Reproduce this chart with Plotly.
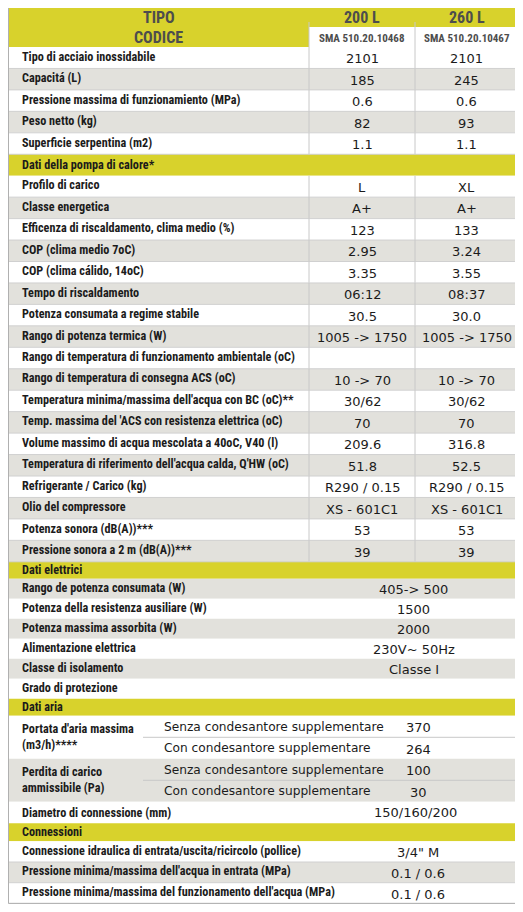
import plotly.graph_objects as go

# ---------------- data ----------------
header_cols = ["TIPO", "200 L", "260 L"]
code_cols = ["CODICE", "SMA 510.20.10468", "SMA 510.20.10467"]

gen_labels = ["Tipo di acciaio inossidabile", "Capacitá (L)", "Pressione massima di funzionamiento (MPa)",
              "Peso netto (kg)", "Superficie serpentina (m2)"]
gen_200 = ["2101", "185", "0.6", "82", "1.1"]
gen_260 = ["2101", "245", "0.6", "93", "1.1"]

pump_title = "Dati della pompa di calore*"
pump_labels = ["Profilo di carico", "Classe energetica", "Efficenza di riscaldamento, clima medio (%)",
               "COP (clima medio 7oC)", "COP (clima cálido, 14oC)", "Tempo di riscaldamento",
               "Potenza consumata a regime stabile", "Rango di potenza termica (W)",
               "Rango di temperatura di funzionamento ambientale (oC)", "Rango di temperatura di consegna ACS (oC)",
               "Temperatura minima/massima dell'acqua con BC (oC)**", "Temp. massima del 'ACS con resistenza elettrica (oC)",
               "Volume massimo di acqua mescolata a 40oC, V40 (l)", "Temperatura di riferimento dell'acqua calda, Q'HW (oC)",
               "Refrigerante / Carico (kg)", "Olio del compressore", "Potenza sonora (dB(A))***",
               "Pressione sonora a 2 m (dB(A))***"]
pump_200 = ["L", "A+", "123", "2.95", "3.35", "06:12", "30.5", "1005 -> 1750", "", "10 -> 70", "30/62", "70",
            "209.6", "51.8", "R290 / 0.15", "XS - 601C1", "53", "39"]
pump_260 = ["XL", "A+", "133", "3.24", "3.55", "08:37", "30.0", "1005 -> 1750", "", "10 -> 70", "30/62", "70",
            "316.8", "52.5", "R290 / 0.15", "XS - 601C1", "53", "39"]

elec_title = "Dati elettrici"
elec_labels = ["Rango de potenza consumata (W)", "Potenza della resistenza ausiliare (W)",
               "Potenza massima assorbita (W)", "Alimentazione elettrica", "Classe di isolamento",
               "Grado di protezione"]
elec_vals = ["405-> 500", "1500", "2000", "230V~ 50Hz", "Classe I", ""]

air_title = "Dati aria"
air_groups = ["Portata d'aria massima<br>(m3/h)****", "Perdita di carico<br>ammissibile (Pa)"]
air_sub = ["Senza condesantore supplementare", "Con condesantore supplementare"]
air_vals = [["370", "264"], ["100", "30"]]
air_diam_label = "Diametro di connessione (mm)"
air_diam_val = "150/160/200"

conn_title = "Connessioni"
conn_labels = ["Connessione idraulica di entrata/uscita/ricircolo (pollice)",
               "Pressione minima/massima dell'acqua in entrata (MPa)",
               "Pressione minima/massima del funzionamento dell'acqua (MPa)"]
conn_vals = ['3/4" M', "0.1 / 0.6", "0.1 / 0.6"]

# ---------------- style ----------------
YEL = "#d8d22c"
GREY = "#e2e1dc"
WHITE = "#ffffff"
LINE = "#c8c8c8"
TXT = "#1b1b1b"
HTXT = "#4d4d4d"
LFONT = "Liberation Sans Narrow, Roboto Condensed, Roboto, Liberation Sans"
VFONT = "DejaVu Sans"
X0, X1, X2, X3 = 8.5, 309, 415, 518
XSUB = 143
LS = 12.2
VS = 13

shapes, ann = [], []

def rect(x0, y0, x1, y1, fill):
    shapes.append(dict(type="rect", xref="x", yref="y", x0=x0, x1=x1, y0=y0, y1=y1,
                       fillcolor=fill, line=dict(width=0), layer="below"))

def hline(x0, x1, y, color=LINE, w=1):
    shapes.append(dict(type="line", xref="x", yref="y", x0=x0, x1=x1, y0=y, y1=y, line=dict(color=color, width=w)))

def vline(x, y0, y1, color=LINE, w=1):
    shapes.append(dict(type="line", xref="x", yref="y", x0=x, x1=x, y0=y0, y1=y1, line=dict(color=color, width=w)))

def text(x, y, s, anchor="left", size=LS, color=TXT, font=LFONT, bold=True):
    ann.append(dict(x=x, y=y, xref="x", yref="y", text=(f"<b>{s}</b>" if bold and s else s), showarrow=False,
                    xanchor=anchor, yanchor="middle", align="left",
                    font=dict(family=font, size=size, color=color)))

# header
rect(X0, 6, X3, 27, YEL)
rect(X0, 27, X1, 47, YEL)
rect(X1, 27, X3, 47, WHITE)
text((X0 + X1) / 2, 17, header_cols[0], "center", 16, HTXT)
text((X1 + X2) / 2, 17, header_cols[1], "center", 16, HTXT)
text((X2 + X3) / 2, 17, header_cols[2], "center", 16, HTXT)
text((X0 + X1) / 2, 37.5, code_cols[0], "center", 16, HTXT)
text((X1 + X2) / 2, 38, code_cols[1], "center", 11, HTXT)
text((X2 + X3) / 2, 38, code_cols[2], "center", 11, HTXT)
vline(X1, 22, 47); vline(X2, 22, 47)

y = 47.0
RH = 21.45

def two_col_rows(labels, v1, v2, y, rh):
    for i, lab in enumerate(labels):
        fill = WHITE if i % 2 == 0 else GREY
        rect(X0, y, X3, y + rh, fill)
        text(20, y + rh / 2 - 1, lab)
        text((X1 + X2) / 2, y + rh / 2 + 1, v1[i], "center", VS, TXT, VFONT, False)
        text((X2 + X3) / 2, y + rh / 2 + 1, v2[i], "center", VS, TXT, VFONT, False)
        vline(X1, y, y + rh); vline(X2, y, y + rh)
        hline(X0, X3, y + rh, "#d0d0d0")
        y += rh
    return y

def title_row(s, y, rh):
    rect(X0, y, X3, y + rh, YEL)
    text(20, y + rh / 2, s)
    return y + rh

y = two_col_rows(gen_labels, gen_200, gen_260, y, RH)
y = title_row(pump_title, y, RH)
y = two_col_rows(pump_labels, pump_200, pump_260, y, RH)

ERH = 20.0
y = title_row(elec_title, y, 17)
for i, lab in enumerate(elec_labels):
    fill = GREY if i % 2 == 0 else WHITE
    rect(X0, y, X3, y + ERH, fill)
    text(20, y + ERH / 2 - 1, lab)
    text((X1 + X3) / 2, y + ERH / 2 + 1, elec_vals[i], "center", VS, TXT, VFONT, False)
    y += ERH

y = title_row(air_title, y, 17)
ARH = 21.5
for g, glab in enumerate(air_groups):
    fill = WHITE if g % 2 == 0 else GREY
    rect(X0, y, X3, y + 2 * ARH, fill)
    text(20, y + ARH, glab)
    for k, sub in enumerate(air_sub):
        yc = y + k * ARH + ARH / 2
        text(162, yc, sub, "left", 12.2, TXT, VFONT, False)
        text(418, yc + 1, air_vals[g][k], "center", VS, TXT, VFONT, False)
    hline(XSUB, X3, y + ARH, "#c8c8c8")
    y += 2 * ARH
rect(X0, y, X3, y + ARH, WHITE)
text(20, y + ARH / 2, air_diam_label)
text(415, y + ARH / 2, air_diam_val, "center", VS, TXT, VFONT, False)
y += ARH

y = title_row(conn_title, y, 18)
CRH = 20.7
for i, lab in enumerate(conn_labels):
    fill = WHITE if i % 2 == 0 else GREY
    rect(X0, y, X3, y + CRH, fill)
    text(20, y + CRH / 2 - 1, lab)
    text(418, y + CRH / 2 + 1, conn_vals[i], "center", VS, TXT, VFONT, False)
    hline(X0, X3, y + CRH, "#d0d0d0")
    y += CRH

shapes.append(dict(type="rect", xref="x", yref="y", x0=X0, x1=X3, y0=6, y1=y,
                   line=dict(color="#b0b0b0", width=1), fillcolor="rgba(0,0,0,0)"))

fig = go.Figure()
fig.update_layout(width=515, height=904, margin=dict(l=0, r=0, t=0, b=0),
                  paper_bgcolor="white", plot_bgcolor="white",
                  xaxis=dict(range=[8, 523], visible=False, fixedrange=True),
                  yaxis=dict(range=[912, 8], visible=False, fixedrange=True),
                  shapes=shapes, annotations=ann, showlegend=False)
fig.write_html("out.html")
